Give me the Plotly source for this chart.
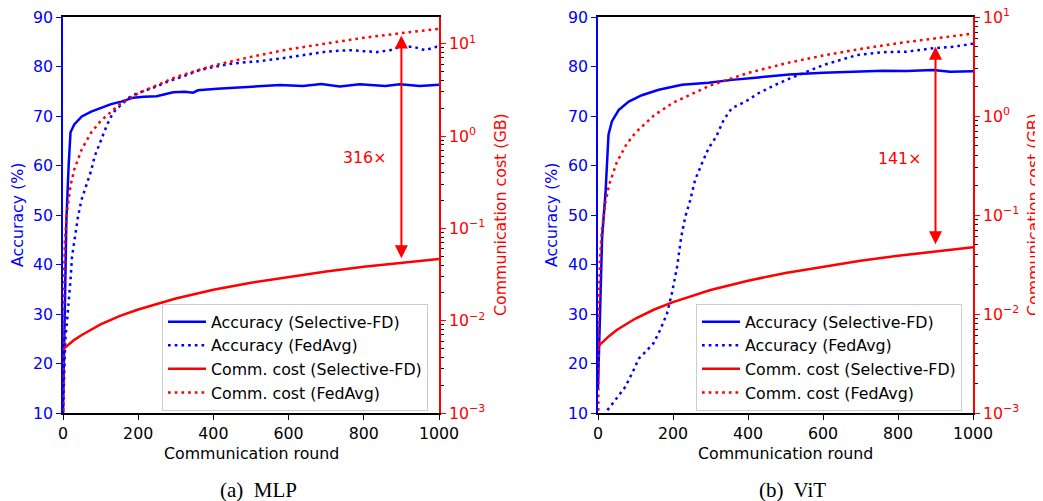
import plotly.graph_objects as go
import math

W, H = 1043, 501
OFF = 8          # browser default body margin
FW, FH = W - OFF, H - OFF
BLUE = "#0000ff"
RED = "#ff0000"
FONT = "DejaVu Sans"
FS = 15.8

# ---------------- MLP data ----------------
mlp_sel_acc_rounds = [0, 5, 9, 15, 20, 30, 40, 50, 75, 102, 128, 155, 187, 215, 249, 293, 324, 346, 359, 410, 460,
                      497, 524, 577, 638, 687, 736, 789, 857, 896, 949, 993, 1000]
mlp_sel_acc = [10, 32, 49, 60, 66.7, 68.3, 69.2, 69.9, 70.9, 71.6, 72.4, 72.9, 73.7, 73.9, 74.0, 74.8, 74.9, 74.7, 75.2,
               75.5, 75.7, 76.0, 76.1, 76.25, 76.05, 76.45, 75.95, 76.4, 76.05, 76.4, 76.05, 76.35, 76.3]

mlp_avg_acc_rounds = [0, 3, 6, 11, 16, 20, 24, 31, 40, 49, 58, 67, 75, 84, 95, 106, 117, 128, 140, 151, 165, 177,
                      195, 226, 250, 270, 306, 330, 360, 400, 450, 500, 524, 577, 612, 650, 701, 740, 772, 800, 834,
                      870, 896, 931, 963, 994, 1000]
mlp_avg_acc = [10, 20, 24.7, 28.8, 32.8, 36.9, 41.6, 45.6, 49.7, 53.0, 55.0, 56.8, 59.0, 61.8, 64.0, 66.2, 68.2, 69.9,
               71.3, 72.0, 73.0, 73.8, 74.5, 75.3, 76.0, 76.7, 77.6, 78.3, 79.2, 79.9, 80.6, 80.9, 81.1, 81.6, 82.0,
               82.3, 83.0, 83.2, 83.3, 83.1, 82.9, 83.3, 84.0, 84.0, 83.3, 84.0, 83.9]

sel_cost_rounds = [0, 5, 10, 20, 30, 50, 75, 100, 150, 200, 300, 400, 500, 600, 700, 800, 900, 1000]
avg_cost_rounds = [0, 1, 5, 10, 20, 30, 50, 75, 100, 150, 200, 300, 400, 500, 600, 700, 800, 900, 1000]
mlp_sel_cost = [0.0049, 0.0051, 0.0053, 0.0057, 0.0062, 0.0070, 0.0080, 0.0091, 0.0112, 0.0132, 0.0174, 0.0216,
                0.0258, 0.0299, 0.0341, 0.0383, 0.0424, 0.0466]
mlp_avg_cost = [1e-9, 0.0145, 0.072, 0.145, 0.29, 0.435, 0.72, 1.09, 1.45, 2.2, 2.9, 4.35, 5.8, 7.2, 8.7, 10.1, 11.6,
                13.0, 14.5]

# ---------------- ViT data ----------------
vit_sel_acc_rounds = [0, 5, 11, 20, 28, 37, 55, 82, 117, 162, 224, 295, 357, 428, 510, 601, 690, 761, 823, 894,
                      939, 992, 1000]
vit_sel_acc = [15, 32, 45.6, 54.4, 66.2, 68.9, 71.2, 72.9, 74.2, 75.3, 76.3, 76.7, 77.3, 77.8, 78.4, 78.75, 78.95,
               79.15, 79.1, 79.3, 78.95, 79.1, 79.05]

vit_avg_acc_rounds = [0, 20, 46, 73, 95, 109, 131, 148, 166, 184, 198, 211, 222, 233, 246, 259, 277, 295, 315, 335,
                      357, 393, 428, 473, 512, 601, 690, 761, 823, 894, 948, 992, 1000]
vit_avg_acc = [7, 10.1, 12.6, 15.3, 18.7, 21.0, 22.7, 24.1, 26.8, 30.1, 34.5, 39.6, 45.6, 49.7, 53.0, 57.1, 60.4,
               63.5, 65.8, 69.2, 71.6, 72.9, 74.6, 76.3, 77.6, 80.3, 82.3, 82.9, 83.0, 83.7, 84.0, 84.5, 84.6]

vit_sel_cost = [0.0047, 0.0049, 0.0051, 0.0056, 0.0060, 0.0069, 0.0079, 0.0090, 0.0111, 0.0132, 0.0175, 0.0217,
                0.0260, 0.0302, 0.0345, 0.0387, 0.0430, 0.0472]
vit_avg_cost = [1e-9, 0.0068, 0.034, 0.068, 0.136, 0.204, 0.34, 0.51, 0.68, 1.02, 1.36, 2.04, 2.72, 3.4, 4.08, 4.76,
                5.44, 6.12, 6.8]

x_ticks = [0, 200, 400, 600, 800, 1000]
acc_ticks = [10, 20, 30, 40, 50, 60, 70, 80, 90]
cost_ticks = [1e-3, 1e-2, 1e-1, 1e0, 1e1]
cost_tick_text = ["10<sup>\u22123</sup>", "10<sup>\u22122</sup>", "10<sup>\u22121</sup>", "10<sup>0</sup>",
                  "10<sup>1</sup>"]

legend_names = ["Accuracy (Selective-FD)", "Accuracy (FedAvg)", "Comm. cost (Selective-FD)", "Comm. cost (FedAvg)"]

# arrow top, arrow bottom, label, label y
mlp_arrow = (12.3, 0.0457, "316\u00d7", 0.58)
vit_arrow = (5.0, 0.049, "141\u00d7", 0.373)

minor_vals = [m * 10 ** k for k in range(-3, 2) for m in range(2, 10)]


def px(x):
    return (x - OFF) / FW


def py(y):
    return 1 - (y - OFF) / FH


ydom = [py(413), py(17)]
panels = [
    dict(x0=63, x1=439, xa="x", ya="y", ya2="y2", legend="legend", rng2=[-3, 1.289],
         sel_r=mlp_sel_acc_rounds, sel=mlp_sel_acc, avg_r=mlp_avg_acc_rounds, avg=mlp_avg_acc,
         selc=mlp_sel_cost, avgc=mlp_avg_cost, arrow=mlp_arrow, rtitle_x=501, cap="(a)  MLP",
         leg=(162, 304), ltitle_x=18, cap_x=258),
    dict(x0=598, x1=973, xa="x2", ya="y3", ya2="y4", legend="legend2", rng2=[-3, 1.0],
         sel_r=vit_sel_acc_rounds, sel=vit_sel_acc, avg_r=vit_avg_acc_rounds, avg=vit_avg_acc,
         selc=vit_sel_cost, avgc=vit_avg_cost, arrow=vit_arrow, rtitle_x=1034, cap="(b)  ViT",
         leg=(696, 304), ltitle_x=552, cap_x=792),
]

fig = go.Figure()
DOT = "2.7px,4px"
LW = 2.5
annotations = []

for i, p in enumerate(panels):
    fig.add_trace(go.Scatter(x=p["sel_r"], y=p["sel"], mode="lines", name=legend_names[0],
                             line=dict(color=BLUE, width=LW), xaxis=p["xa"], yaxis=p["ya"],
                             legend=p["legend"]))
    fig.add_trace(go.Scatter(x=p["avg_r"], y=p["avg"], mode="lines", name=legend_names[1],
                             line=dict(color=BLUE, width=LW, dash=DOT), xaxis=p["xa"], yaxis=p["ya"],
                             legend=p["legend"]))
    fig.add_trace(go.Scatter(x=sel_cost_rounds, y=p["selc"], mode="lines", name=legend_names[2],
                             line=dict(color=RED, width=LW), xaxis=p["xa"], yaxis=p["ya2"],
                             legend=p["legend"]))
    fig.add_trace(go.Scatter(x=avg_cost_rounds, y=p["avgc"], mode="lines", name=legend_names[3],
                             line=dict(color=RED, width=LW, dash=DOT), xaxis=p["xa"], yaxis=p["ya2"],
                             legend=p["legend"]))

    top, bot, lab, laby = p["arrow"]
    annotations.append(dict(x=900, y=math.log10(top), ax=900, ay=math.log10(bot), xref=p["xa"], yref=p["ya2"],
                            axref=p["xa"], ayref=p["ya2"], text="", showarrow=True, arrowside="end+start",
                            arrowhead=2, startarrowhead=2, arrowsize=1.3, startarrowsize=1.3,
                            arrowwidth=2, arrowcolor=RED))
    annotations.append(dict(x=900, y=math.log10(laby), xref=p["xa"], yref=p["ya2"], text=lab, showarrow=False,
                            xanchor="right", yanchor="middle", xshift=-13,
                            font=dict(family=FONT, size=FS, color=RED)))
    cx = (p["x0"] + p["x1"]) / 2
    annotations.append(dict(x=px(p["ltitle_x"]), y=py(215), xref="paper", yref="paper",
                            xanchor="center", yanchor="middle",
                            text="Accuracy (%)", textangle=-90, showarrow=False,
                            font=dict(family=FONT, size=FS, color=BLUE)))
    annotations.append(dict(x=px(p["rtitle_x"]), y=py(215), xref="paper", yref="paper",
                            xanchor="center", yanchor="middle",
                            text="Communication cost (GB)", textangle=-90, showarrow=False,
                            font=dict(family=FONT, size=FS, color=RED)))
    annotations.append(dict(x=px(cx), y=py(453), xref="paper", yref="paper", text="Communication round",
                            xanchor="center", yanchor="middle",
                            showarrow=False, font=dict(family=FONT, size=FS, color="black")))
    annotations.append(dict(x=px(p["cap_x"]), y=py(490), xref="paper", yref="paper", text=p["cap"],
                            xanchor="center", yanchor="middle", showarrow=False,
                            font=dict(family="Liberation Serif, Times New Roman, serif", size=21,
                                      color="black")))

layout = dict(
    width=FW, height=FH, autosize=False,
    margin=dict(l=0, r=0, t=0, b=0, autoexpand=False),
    paper_bgcolor="white", plot_bgcolor="white",
    font=dict(family=FONT, size=FS, color="black"),
    annotations=annotations,
)

for i, p in enumerate(panels):
    xkey = "xaxis" if i == 0 else "xaxis2"
    yk = "yaxis" if i == 0 else "yaxis3"
    y2k = "yaxis2" if i == 0 else "yaxis4"
    layout[xkey] = dict(domain=[px(p["x0"]), px(p["x1"])], anchor=p["ya"], range=[0, 1000], automargin=False,
                        tickvals=x_ticks, ticks="outside", ticklen=5, tickwidth=1, tickcolor="black",
                        ticklabeloverflow="allow",
                        showline=True, linecolor="black", linewidth=1.5, mirror=True, showgrid=False,
                        zeroline=False, tickfont=dict(family=FONT, size=FS, color="black"))
    layout[yk] = dict(domain=ydom, anchor=p["xa"], range=[10, 90], tickvals=acc_ticks, ticks="outside",
                      automargin=False, ticklabeloverflow="allow",
                      ticklen=5, tickwidth=1, tickcolor=BLUE, showline=True, linecolor=BLUE, linewidth=1.5,
                      showgrid=False, zeroline=False, side="left",
                      tickfont=dict(family=FONT, size=FS, color=BLUE))
    layout[y2k] = dict(overlaying=p["ya"], anchor=p["xa"], side="right", type="log", range=p["rng2"],
                       automargin=False, ticklabeloverflow="allow",
                       tickmode="array", tickvals=cost_ticks, ticktext=cost_tick_text, ticks="outside",
                       ticklen=5, tickwidth=1, tickcolor=RED, showline=True, linecolor=RED, linewidth=1.5,
                       showgrid=False, zeroline=False, tickfont=dict(family=FONT, size=FS, color=RED),
                       minor=dict(tickmode="array", tickvals=minor_vals, ticks="outside", ticklen=3,
                                  tickwidth=1, tickcolor="black", showgrid=False))
    lk = p["legend"]
    layout[lk] = dict(x=px(p["leg"][0]), y=py(p["leg"][1]), xanchor="left", yanchor="top",
                      bgcolor="rgba(255,255,255,0.8)", bordercolor="#cccccc", borderwidth=1,
                      itemwidth=38,
                      font=dict(family=FONT, size=FS, color="black"), tracegroupgap=0)

fig.update_layout(**layout)
fig.write_html("out.html")
